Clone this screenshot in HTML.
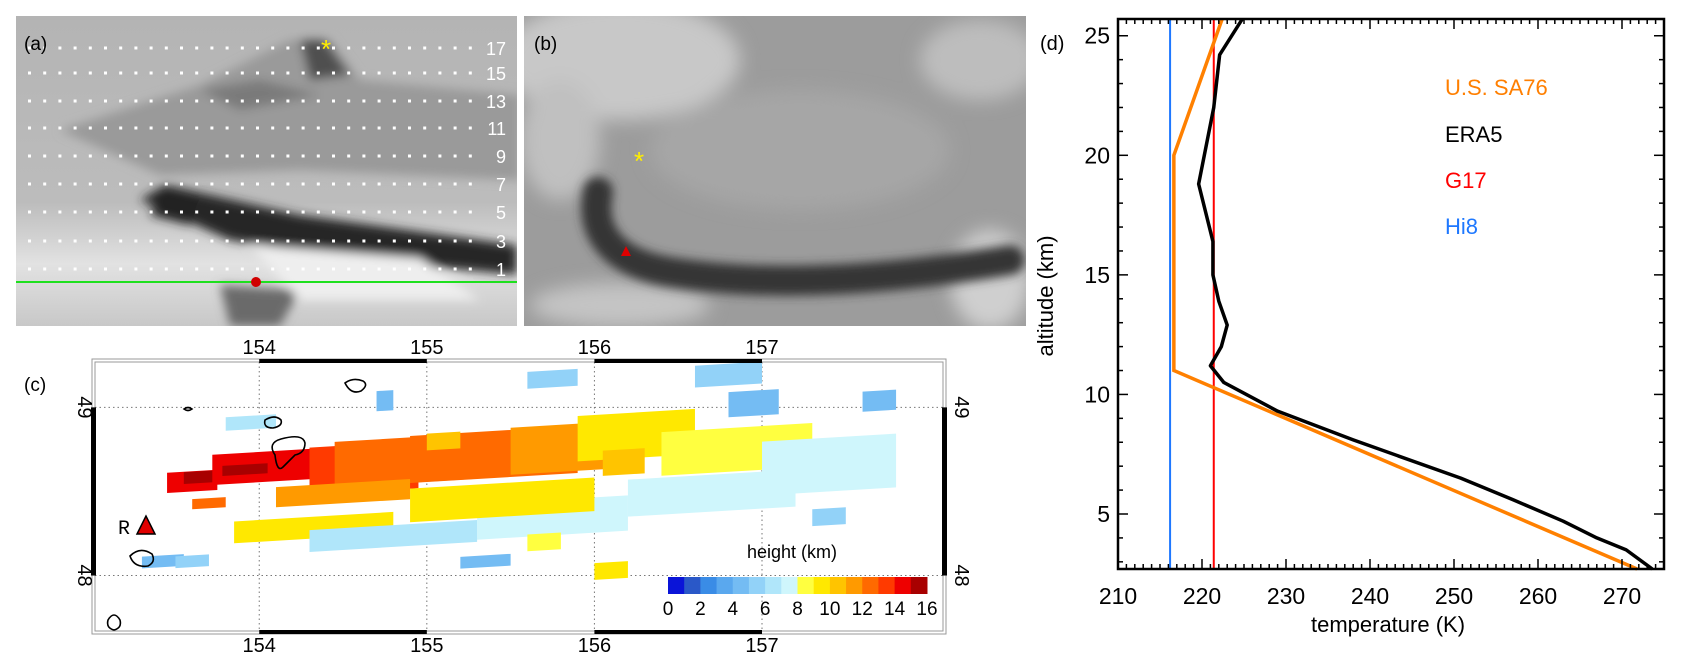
<!DOCTYPE html>
<html><head><meta charset="utf-8"><style>
html,body{margin:0;padding:0;background:#fff}
svg{display:block;font-family:"Liberation Sans",Arial,sans-serif}
</style></head><body>
<svg id="fig" width="1685" height="665" viewBox="0 0 1685 665" xmlns="http://www.w3.org/2000/svg">
<defs>
<filter id="blur4" x="-30%" y="-30%" width="160%" height="160%"><feGaussianBlur stdDeviation="5"/></filter>
<filter id="blur8" x="-30%" y="-30%" width="160%" height="160%"><feGaussianBlur stdDeviation="9"/></filter>
<clipPath id="clipA"><rect x="16" y="16" width="501" height="310"/></clipPath>
<clipPath id="clipB"><rect x="524" y="16" width="502" height="310"/></clipPath>
<linearGradient id="gA" x1="0" y1="0" x2="0" y2="1">
<stop offset="0" stop-color="#b4b4b4"/><stop offset="0.6" stop-color="#bcbcbc"/><stop offset="0.8" stop-color="#e2e2e2"/><stop offset="1" stop-color="#c8c8c8"/></linearGradient>
</defs>

<!-- Panel a -->
<g clip-path="url(#clipA)">
<rect x="16" y="16" width="501" height="310" fill="url(#gA)"/>
<g filter="url(#blur4)">
<polygon points="60,130 200,85 290,40 330,40 360,80 520,95 520,180 300,170 160,175" fill="#9a9a9a"/>
<polygon points="300,40 325,40 350,75 310,80" fill="#505050"/>
<polygon points="200,90 260,80 320,95 240,110" fill="#7a7a7a"/>
<polygon points="140,200 165,185 300,215 517,245 517,275 380,262 230,240" fill="#262626"/>
<polygon points="165,190 200,195 190,225 150,215" fill="#222"/>
<polygon points="220,285 300,290 280,326 230,326" fill="#6a6a6a"/>
<polygon points="250,245 420,258 480,300 300,300" fill="#eeeeee"/>
</g>
<line x1="16" y1="282" x2="517" y2="282" stroke="#1ee01e" stroke-width="2"/>
<circle cx="256" cy="282" r="5" fill="#d00000"/>
<text x="326" y="58" font-size="26" fill="#ffee00" text-anchor="middle">*</text>
<g id="rowsA"></g>
<text x="24" y="50" font-size="19" fill="#000">(a)</text>
</g>

<!-- Panel b -->
<g clip-path="url(#clipB)">
<rect x="524" y="16" width="502" height="310" fill="#9c9c9c"/>
<g filter="url(#blur8)">
<ellipse cx="620" cy="60" rx="120" ry="60" fill="#c8c8c8"/>
<ellipse cx="560" cy="140" rx="40" ry="60" fill="#c0c0c0"/>
<ellipse cx="980" cy="60" rx="60" ry="40" fill="#bdbdbd"/>
<ellipse cx="990" cy="280" rx="40" ry="50" fill="#cfcfcf"/>
<ellipse cx="620" cy="305" rx="90" ry="22" fill="#c4c4c4"/>
<ellipse cx="800" cy="150" rx="150" ry="60" fill="#a6a6a6"/>
</g>
<g filter="url(#blur4)">
<path d="M598,192 C590,230 610,262 670,272 C770,288 890,280 1010,260" fill="none" stroke="#363636" stroke-width="30" stroke-linecap="round"/>
</g>
<text x="639" y="170" font-size="26" fill="#ffee00" text-anchor="middle">*</text>
<polygon points="626,246 621,256 631,256" fill="#e00000"/>
<text x="534" y="50" font-size="19" fill="#000">(b)</text>
</g>

<!-- Panel c -->
<g>
<text x="24" y="391" font-size="19">(c)</text>
<rect x="92" y="359" width="854" height="275" fill="none" stroke="#999" stroke-width="1"/>
<rect x="95" y="362" width="848" height="269" fill="#fff" stroke="#999" stroke-width="1"/>
<g id="gridC"></g>
<g id="plumeC"></g>
<g fill="none" stroke="#000" stroke-width="1.6">
<path d="M345,383 q8,-6 18,-2 q6,4 -2,10 q-10,4 -16,-8z"/>
<path d="M265,420 q10,-6 16,0 q2,6 -8,8 q-10,0 -8,-8z"/>
<path d="M275,455 q-8,-12 6,-16 q22,-6 24,4 q0,10 -10,12 q-6,6 -12,12 q-6,6 -8,-12z"/>
<path d="M184,409 q4,-3 8,0 q-4,3 -8,0z"/>
<path d="M130,556 q10,-10 22,-2 q4,8 -4,12 q-14,2 -18,-10z"/>
<path d="M108,620 q6,-10 12,0 q2,8 -6,10 q-8,-2 -6,-10z"/>
</g>
<text x="118" y="534" font-size="20" font-family="Liberation Mono,monospace">R</text>
<polygon points="146,516 137,534 155,534" fill="#e00000" stroke="#000" stroke-width="1.5"/>
<g id="axesC"></g>
<text x="792" y="558" font-size="18" text-anchor="middle">height (km)</text>
<g id="cbar"></g>
</g>

<!-- Panel d -->
<g>
<text x="1040" y="50" font-size="20">(d)</text>
<g id="plotD"></g>
<text transform="translate(1053,296) rotate(-90)" font-size="22" text-anchor="middle">altitude (km)</text>
<text x="1388" y="632" font-size="22" text-anchor="middle">temperature (K)</text>
<text x="1445" y="95" font-size="22" fill="#ff7f00">U.S. SA76</text>
<text x="1445" y="142" font-size="22" fill="#000">ERA5</text>
<text x="1445" y="188" font-size="22" fill="#ff0000">G17</text>
<text x="1445" y="234" font-size="22" fill="#1e78ff">Hi8</text>
</g>
</svg>
<script>
const NS="http://www.w3.org/2000/svg";
function mk(tag,attrs,parent){const e=document.createElementNS(NS,tag);for(const k in attrs)e.setAttribute(k,attrs[k]);parent.appendChild(e);return e;}

// ---------- Panel a rows ----------
const rowLabels=[17,15,13,11,9,7,5,3,1];
const rowY=[48,73,101,128,156,184,212,241,269];
const rowsA=document.getElementById('rowsA');
rowLabels.forEach((lab,i)=>{
  for(let x=28;x<=480;x+=15.2){
    const d=mk('rect',{x:x,y:rowY[i]-1.5,width:3,height:3,fill:'#fff'},rowsA);
    
    
  }
  const t=mk('text',{x:506,y:rowY[i]+7,'font-size':18,fill:'#fff','text-anchor':'end'},rowsA);
  t.textContent=lab;
  
  
});

// ---------- Panel c map ----------
const lonMin=153.02, lonMax=158.08, latMin=47.67, latMax=49.27;
const mx=l=>95+(l-lonMin)/(lonMax-lonMin)*848;
const my=l=>631-(l-latMin)/(latMax-latMin)*269;
const lonTicks=[154,155,156,157];
const latTicks=[48,49];
const cbLevels=[0,1,2,3,4,5,6,7,8,9,10,11,12,13,14,15,16];
const cbColors=['#0a14d8','#2a58c8','#3a8ce6','#5aa8ee','#74bcf3','#92d2f8','#b0e6fa','#cff6fc','#ffff40','#ffe800','#ffc400','#ff9a00','#ff6a00','#ff3a00','#ee0000','#a80000'];
const cbTickLabels=[0,2,4,6,8,10,12,14,16];
const patchLon0=[153.45,153.55,153.72,153.78,154.3,154.45,154.9,155.5,155.9,156.05,156.4,157.0,156.2,155.3,154.9,154.1,153.85,154.3,155.6,156.6,153.3,153.8,155.6,156.8,157.6,155.0,153.5,153.6,154.7,155.2,156.0,157.3];
const patchLon1=[153.75,153.75,154.45,154.05,154.95,155.3,155.9,156.2,156.6,156.3,157.3,157.8,157.2,156.2,156.0,154.9,154.8,155.3,155.9,157.0,153.55,154.1,155.8,157.1,157.8,155.2,153.7,153.8,154.8,155.5,156.2,157.5];
const patchLat0=[48.50,48.55,48.56,48.60,48.50,48.55,48.58,48.62,48.70,48.60,48.62,48.50,48.38,48.24,48.35,48.43,48.22,48.17,49.12,49.13,48.05,48.87,48.15,48.95,48.98,48.75,48.05,48.40,48.98,48.05,47.98,48.30];
const patchLat1=[48.62,48.62,48.74,48.66,48.78,48.82,48.86,48.90,48.97,48.75,48.88,48.82,48.60,48.45,48.55,48.55,48.35,48.30,49.22,49.26,48.12,48.95,48.25,49.10,49.10,48.85,48.12,48.46,49.10,48.12,48.08,48.40];
const patchH=[14,15,14.5,15.5,13,12.5,12,11.5,9.5,10.5,8.5,7.2,7.5,7,9.5,11.5,9,6.5,5.5,5,4.5,6.5,8.5,4.5,4.5,10.5,5,12,4.5,4.5,9,5];
const gridC=document.getElementById('gridC');
lonTicks.forEach(l=>{const g=mk('line',{x1:mx(l),x2:mx(l),y1:362,y2:631,stroke:'#777','stroke-dasharray':'1.5,3'},gridC);});
latTicks.forEach(l=>{const g=mk('line',{x1:95,x2:943,y1:my(l),y2:my(l),stroke:'#777','stroke-dasharray':'1.5,3'},gridC);});
const colorFor=h=>cbColors[Math.max(0,Math.min(15,Math.floor(h)))];
const plumeC=document.getElementById('plumeC');
patchH.forEach((h,i)=>{
  const x0=mx(patchLon0[i]),x1=mx(patchLon1[i]),y0=my(patchLat1[i]),y1=my(patchLat0[i]);
  const sl=(x1-x0)*0.03;
  const p=mk('polygon',{points:`${x0},${y0+sl} ${x1},${y0-sl} ${x1},${y1-sl} ${x0},${y1+sl}`,fill:colorFor(h)},plumeC);
  
  
});
const axesC=document.getElementById('axesC');
lonTicks.forEach((l,i)=>{
  const t1=mk('text',{x:mx(l),y:354,'font-size':20,'text-anchor':'middle'},axesC);t1.textContent=l;
  
  const t2=mk('text',{x:mx(l),y:652,'font-size':20,'text-anchor':'middle'},axesC);t2.textContent=l;
  
  if(i%2===0){
    const b1=mk('rect',{x:mx(l),y:359,width:mx(l+1)-mx(l),height:4,fill:'#000'},axesC);
    
    const b2=mk('rect',{x:mx(l),y:630,width:mx(l+1)-mx(l),height:4,fill:'#000'},axesC);
    
  }
});
const lb=mk('rect',{x:91,y:my(49),width:5,height:my(48)-my(49),fill:'#000'},axesC);

const rb=mk('rect',{x:942,y:my(49),width:5,height:my(48)-my(49),fill:'#000'},axesC);

latTicks.forEach(l=>{
  const a=mk('text',{transform:`translate(78,${my(l)}) rotate(90)`,'font-size':20,'text-anchor':'middle'},axesC);a.textContent=l;
  
  const b=mk('text',{transform:`translate(955,${my(l)}) rotate(90)`,'font-size':20,'text-anchor':'middle'},axesC);b.textContent=l;
  
});
const cbar=document.getElementById('cbar');
const cbx=v=>668+v/16*259;
cbColors.forEach((c,i)=>{
  const r=mk('rect',{x:cbx(cbLevels[i]),y:577,width:cbx(cbLevels[i+1])-cbx(cbLevels[i])+0.5,height:17,fill:c},cbar);
  
});
cbTickLabels.forEach(v=>{
  const t=mk('text',{x:cbx(v),y:615,'font-size':19,'text-anchor':'middle'},cbar);t.textContent=v;
  
});

// ---------- Panel d ----------
const xTickLabels=[210,220,230,240,250,260,270];
const yTickLabels=[5,10,15,20,25];
const era5T=[224.8,222.1,221.4,219.6,221.3,221.3,222.0,223.0,222.3,221.0,222.6,229.0,238.0,250.8,257.0,263.0,267.0,270.5,273.6];
const era5Z=[25.7,24.2,22.0,18.8,16.4,15.0,13.9,12.9,12.0,11.2,10.5,9.3,8.1,6.5,5.6,4.7,4.0,3.5,2.7];
const sa76T=[271.8,216.65,216.65,222.4];
const sa76Z=[2.7,11.0,20.0,25.7];
const g17T=[221.4];
const hi8T=[216.2];
const X0=1118,X1=1664,Y0=19,Y1=569,Tmin=210,Tmax=275,Zmin=2.7,Zmax=25.7;
const sx=t=>X0+(t-Tmin)/(Tmax-Tmin)*(X1-X0);
const sy=z=>Y1-(z-Zmin)/(Zmax-Zmin)*(Y1-Y0);
const plotD=document.getElementById('plotD');
const hi=mk('line',{x1:sx(hi8T[0]),x2:sx(hi8T[0]),y1:Y0,y2:Y1,stroke:'#1e78ff','stroke-width':2},plotD);

const g=mk('line',{x1:sx(g17T[0]),x2:sx(g17T[0]),y1:Y0,y2:Y1,stroke:'#ff0000','stroke-width':2},plotD);

const sa=mk('polyline',{points:sa76T.map((t,i)=>sx(t)+','+sy(sa76Z[i])).join(' '),fill:'none',stroke:'#ff8000','stroke-width':3.5},plotD);

const er=mk('polyline',{points:era5T.map((t,i)=>sx(t)+','+sy(era5Z[i])).join(' '),fill:'none',stroke:'#000','stroke-width':3.5,'stroke-linejoin':'round'},plotD);

const fr=mk('rect',{x:X0,y:Y0,width:X1-X0,height:Y1-Y0,fill:'none',stroke:'#000','stroke-width':2.5},plotD);

for(let t=211;t<=274;t++){
  const L=(t%10===0)?10:5;
  const a=mk('line',{x1:sx(t),x2:sx(t),y1:Y1,y2:Y1-L,stroke:'#000','stroke-width':1.5},plotD);
  
  const b=mk('line',{x1:sx(t),x2:sx(t),y1:Y0,y2:Y0+L,stroke:'#000','stroke-width':1.5},plotD);
  
}
for(let z=3;z<=25;z++){
  const L=(z%5===0)?10:5;
  const a=mk('line',{x1:X0,x2:X0+L,y1:sy(z),y2:sy(z),stroke:'#000','stroke-width':1.5},plotD);
  
  const b=mk('line',{x1:X1,x2:X1-L,y1:sy(z),y2:sy(z),stroke:'#000','stroke-width':1.5},plotD);
  
}
xTickLabels.forEach(v=>{
  const t=mk('text',{x:sx(v),y:604,'font-size':23,'text-anchor':'middle'},plotD);t.textContent=v;
  
});
yTickLabels.forEach(v=>{
  const t=mk('text',{x:X0-8,y:sy(v)+8,'font-size':23,'text-anchor':'end'},plotD);t.textContent=v;
  
});
</script>
</body></html>
